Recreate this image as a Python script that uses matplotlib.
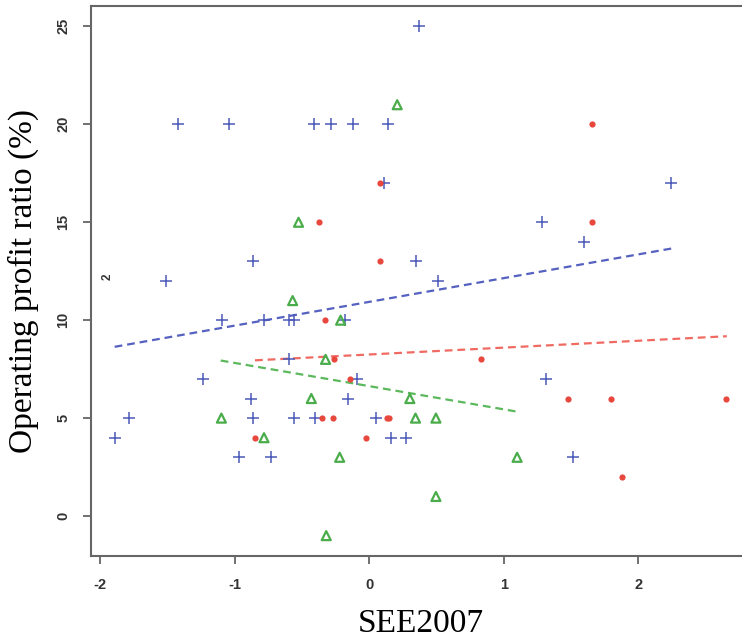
import numpy as np
import matplotlib
matplotlib.use('Agg')
import matplotlib.pyplot as plt

# group 1: blue crosses
blue_x = [-1.42, -1.046, -0.41, -0.285, -0.119, 0.139, 0.367, 0.112, 2.245, 1.284,
          1.596, -0.868, 0.35, -1.51, 0.508, -1.093, -0.783, -0.60, -0.56, -0.184,
          -0.595, -1.234, -0.092, 1.316, -0.88, -0.159, -1.79, -0.865, -0.563, -0.40,
          0.047, -1.89, 0.159, 0.27, -0.969, -0.73, 1.519]
blue_y = [20, 20, 20, 20, 20, 20, 25, 17, 17, 15,
          14, 13, 13, 12, 12, 10, 10, 10, 10, 10,
          8, 7, 7, 7, 6, 6, 5, 5, 5, 5,
          5, 4, 4, 4, 3, 3, 3]

# group 2: red dots
red_x = [0.077, -0.377, 0.077, 1.658, 1.658, -0.327, -0.265, 0.835, -0.141, -0.35,
         -0.273, 0.13, 0.146, -0.025, -0.85, 1.477, 1.797, 2.657, 1.879]
red_y = [17, 15, 13, 20, 15, 10, 8, 8, 7, 5,
         5, 5, 5, 4, 4, 6, 6, 6, 2]

# group 3: green triangles
green_x = [0.208, -0.526, -0.57, -0.213, -0.325, -0.431, 0.302, -1.10, 0.344, 0.496,
           -0.783, -0.22, 1.10, 0.496, -0.32]
green_y = [21, 15, 11, 10, 8, 6, 6, 5, 5, 5,
           4, 3, 3, 1, -1]

# fitted lines (end points)
blue_fit_x = [-1.894, 2.25]
blue_fit_y = [8.64, 13.66]
red_fit_x = [-0.85, 2.66]
red_fit_y = [7.95, 9.18]
green_fit_x = [-1.105, 1.10]
green_fit_y = [7.94, 5.33]

x_ticks = [-2, -1, 0, 1, 2]
y_ticks = [0, 5, 10, 15, 20, 25]

c_blue = '#4b5ab9'
c_red = '#e8473e'
c_green = '#4aac4a'

fig = plt.figure(figsize=(7.42, 6.42), dpi=100)
ax = fig.add_axes([91 / 742, 86 / 642, 660 / 742, 550 / 642])

ax.plot(blue_fit_x, blue_fit_y, color='#5561c0', linestyle=(0, (3.5, 2.2)), linewidth=1.6)
ax.plot(red_fit_x, red_fit_y, color='#f06a62', linestyle=(0, (3.5, 2.2)), linewidth=1.6)
ax.plot(green_fit_x, green_fit_y, color='#5cb85c', linestyle=(0, (3.5, 2.2)), linewidth=1.6)

ax.scatter(blue_x, blue_y, marker='+', s=75, color=c_blue, linewidths=1.1, zorder=3)
ax.scatter(red_x, red_y, marker='o', s=20, color=c_red, linewidths=0, zorder=3)
ax.scatter(green_x, green_y, marker='^', s=42, facecolors='none', edgecolors=c_green,
           linewidths=1.6, zorder=3)

ax.text(-1.95, 12.2, '2', rotation=90, fontsize=8.5, fontweight='bold',
        color='#333333', family='Liberation Sans', ha='center', va='center')

ax.set_xlim(-2.07, 2.84)
ax.set_ylim(-2.04, 26.04)
ax.set_xticks(x_ticks)
ax.set_yticks(y_ticks)
ax.set_xticklabels([str(v) for v in x_ticks], family='Liberation Sans', fontsize=10.5,
                   fontweight='bold', color='#333333')
ax.set_yticklabels([str(v) for v in y_ticks], family='Liberation Sans', fontsize=10.5,
                   fontweight='bold', color='#333333', rotation=90, va='center')
ax.tick_params(axis='both', direction='out', length=6, width=1.3, color='#666666')
ax.tick_params(axis='x', pad=10)
ax.tick_params(axis='y', pad=9)

for side in ['left', 'bottom', 'top']:
    ax.spines[side].set_color('#666666')
    ax.spines[side].set_linewidth(1.5)
ax.spines['right'].set_visible(False)

ax.set_xlabel('SEE2007', family='Liberation Serif', fontsize=24, labelpad=12)
ax.set_ylabel('Operating profit ratio (%)', family='Liberation Serif', fontsize=24, labelpad=12)

fig.savefig('out.png', dpi=100)
